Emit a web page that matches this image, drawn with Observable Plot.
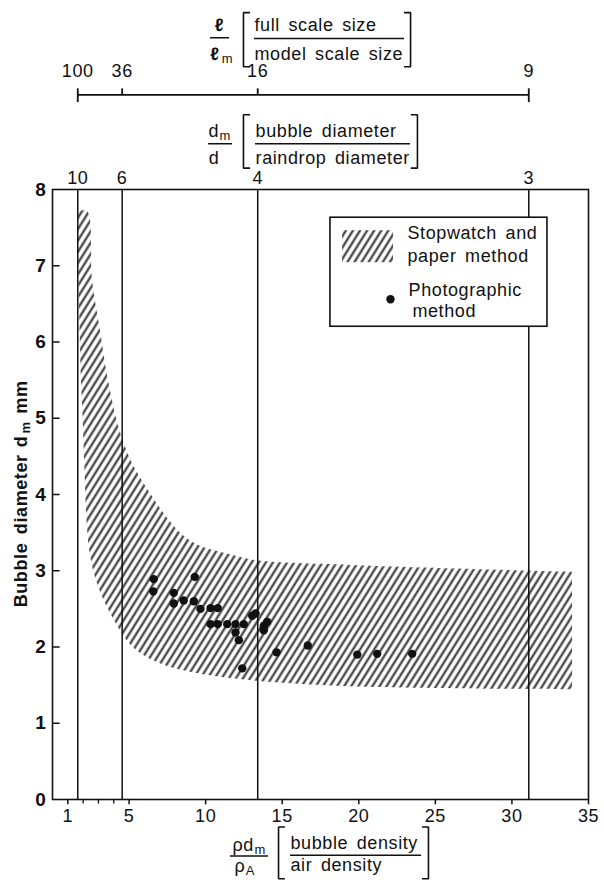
<!DOCTYPE html>
<html>
<head>
<meta charset="utf-8">
<script src="https://cdn.jsdelivr.net/npm/d3@7"></script>
<script src="https://cdn.jsdelivr.net/npm/@observablehq/plot@0.6"></script>
<style>
  body { margin: 0; background: #fff; }
  svg text { letter-spacing: 0.6px; word-spacing: 3px; }
</style>
</head>
<body>
<div id="chart"></div>
<script>
// ---------- data ----------
// Photographic method (x: bubble density / air density, y: bubble diameter mm)
const photoX = [6.61, 6.58, 9.29, 7.92, 7.92, 8.57, 9.23, 9.66, 10.32, 10.79, 10.32, 10.79, 11.41, 11.95, 12.49, 11.95, 12.17, 12.39, 13.04, 13.26, 13.80, 14.02, 13.80, 14.63, 16.67, 19.90, 21.20, 23.49];
const photoY = [2.89, 2.73, 2.92, 2.71, 2.57, 2.61, 2.60, 2.50, 2.51, 2.51, 2.30, 2.30, 2.30, 2.30, 2.30, 2.19, 2.09, 1.72, 2.41, 2.44, 2.28, 2.33, 2.22, 1.93, 2.02, 1.90, 1.91, 1.91];

// Stopwatch and paper method band: upper and lower boundaries
const bandUpperX = [1.70, 2.29, 2.61, 3.13, 3.53, 3.92, 4.31, 4.77, 5.29, 6.40, 7.51, 8.55, 9.66, 11.82, 13.39, 19.46, 33.96];
const bandUpperY = [7.71, 7.71, 6.81, 6.15, 5.63, 5.23, 4.90, 4.62, 4.38, 4.01, 3.69, 3.46, 3.32, 3.20, 3.13, 3.07, 2.98];
const bandLowerX = [1.70, 1.70, 1.73, 1.83, 1.89, 1.99, 2.12, 2.25, 2.48, 2.87, 3.79, 5.29, 7.05, 9.01, 12.93, 19.46, 33.96];
const bandLowerY = [7.71, 7.27, 6.81, 5.93, 5.50, 5.06, 4.31, 3.66, 3.20, 2.87, 2.44, 1.99, 1.78, 1.67, 1.56, 1.48, 1.44];

// axes
const xTickValues = [1, 5, 10, 15, 20, 25, 30, 35];
const xMinorTickValues = [2, 3, 4];
const yTickValues = [0, 1, 2, 3, 4, 5, 6, 7, 8];

// secondary scales: d_m/d and l/l_m at the same positions
const diameterRatioLabels = ["10", "6", "4", "3"];
const diameterRatioX = [1.65, 4.55, 13.4, 31.1];
const scaleRatioLabels = ["100", "36", "16", "9"];

// legend entries
const legendBandLabel = ["Stopwatch and", "paper method"];
const legendDotLabel = ["Photographic", "method"];

// ---------- chart ----------
const ink = "#111";
const band = bandUpperX.map((x, i) => ({ux: x, uy: bandUpperY[i], lx: bandLowerX[i], ly: bandLowerY[i]}));
const photos = photoX.map((x, i) => ({x, y: photoY[i]}));

const T = (x, y, t, o = {}) =>
  Plot.text([{x, y, t}], {x: "x", y: "y", text: "t", fill: ink, fontSize: 18, textAnchor: "start", ...o});
const L = (pts, o = {}) =>
  Plot.line(pts, {x: d => d[0], y: d => d[1], stroke: ink, strokeWidth: 1.6, strokeLinejoin: "miter", strokeLinecap: "butt", ...o});
const bracketL = (x, xs, y1, y2) => L([[xs, y1], [x, y1], [x, y2], [xs, y2]]);
const bracketR = (x, xs, y1, y2) => L([[xs, y1], [x, y1], [x, y2], [xs, y2]]);
const bar = (x1, x2, y) => Plot.ruleY([y], {x1, x2, stroke: ink, strokeWidth: 1.5});

const plot = Plot.plot({
  width: 604,
  height: 880,
  marginTop: 189,
  marginBottom: 81,
  marginLeft: 52,
  marginRight: 16,
  x: {domain: [0, 35], axis: null},
  y: {domain: [0, 8], axis: null},
  style: {fontFamily: "'Liberation Sans', Arial, Helvetica, sans-serif", background: "white", overflow: "visible"},
  marks: [
    // hatched band
    Plot.area(band, {x1: "lx", y1: "ly", x2: "ux", y2: "uy", fill: "url(#hatch)", curve: "catmull-rom"}),
    // vertical reference lines (d_m/d)
    Plot.ruleX(diameterRatioX, {stroke: ink, strokeWidth: 1.5}),
    Plot.frame({stroke: ink, strokeWidth: 1.6}),
    // photographic points
    Plot.dot(photos, {x: "x", y: "y", r: 4.2, fill: ink, stroke: "none"}),

    // y axis ticks (inward) and labels
    Plot.ruleY(yTickValues.slice(1, 8), {x1: 0, x2: 0.5, stroke: ink, strokeWidth: 1.5}),
    Plot.text(yTickValues, {x: 0, y: d => d, text: d => String(d), dx: -6, textAnchor: "end", fontSize: 19, fontWeight: "bold", fill: ink}),
    // x axis ticks (outward) and labels
    Plot.ruleX(xTickValues, {y1: 0, y2: -0.07, stroke: ink, strokeWidth: 1.5}),
    Plot.ruleX(xMinorTickValues, {y1: 0, y2: -0.06, stroke: ink, strokeWidth: 1.3}),
    Plot.text(xTickValues, {x: d => d, y: 0, text: d => String(d), dy: 17, fontSize: 18, fill: ink}),

    // d_m/d labels above the frame
    Plot.text(diameterRatioLabels, {x: (d, i) => diameterRatioX[i], y: 8, text: d => d, dy: -11, fontSize: 18, fill: ink}),

    // l/l_m ruler
    Plot.ruleY([9.24], {x1: diameterRatioX[0], x2: diameterRatioX[3], stroke: ink, strokeWidth: 1.8}),
    Plot.ruleX([diameterRatioX[0], diameterRatioX[3]], {y1: 9.32, y2: 9.14, stroke: ink, strokeWidth: 1.8}),
    Plot.ruleX(diameterRatioX.slice(1, 3), {y1: 9.32, y2: 9.24, stroke: ink, strokeWidth: 1.8}),
    Plot.text(scaleRatioLabels, {x: (d, i) => diameterRatioX[i], y: 9.55, text: d => d, fontSize: 18, fill: ink}),

    // title: l / l_m [full scale size / model scale size]
    T(10.90, 10.15, "ℓ", {textAnchor: "middle", fontWeight: "bold"}),
    bar(10.32, 11.56, 9.99),
    T(10.60, 9.78, "ℓ", {textAnchor: "middle", fontWeight: "bold"}),
    T(11.05, 9.72, "m", {fontSize: 13}),
    bracketL(12.47, 12.90, 10.32, 9.61),
    T(13.19, 10.15, "full scale size"),
    bar(13.19, 22.99, 9.98),
    T(13.19, 9.78, "model scale size"),
    bracketR(23.38, 22.95, 10.32, 9.61),

    // title: d_m / d [bubble diameter / raindrop diameter]
    T(10.19, 8.76, "d"),
    T(10.90, 8.70, "m", {fontSize: 13}),
    bar(10.19, 11.75, 8.60),
    T(10.55, 8.41, "d", {textAnchor: "middle"}),
    bracketL(12.47, 12.90, 8.98, 8.28),
    T(13.26, 8.76, "bubble diameter"),
    bar(13.26, 23.38, 8.60),
    T(13.26, 8.41, "raindrop diameter"),
    bracketR(23.83, 23.40, 8.98, 8.28),

    // title: rho d_m / rho_A [bubble density / air density]
    T(11.75, -0.60, "ρd"),
    T(13.19, -0.66, "m", {fontSize: 13}),
    bar(11.62, 14.10, -0.74),
    T(11.88, -0.87, "ρ"),
    T(12.62, -0.93, "A", {fontSize: 13}),
    bracketL(14.76, 15.18, -0.36, -1.04),
    T(15.54, -0.58, "bubble density"),
    bar(15.54, 24.10, -0.73),
    T(15.54, -0.86, "air density"),
    bracketR(24.55, 24.13, -0.36, -1.04),

    // y axis title: Bubble diameter d_m mm (rotated)
    T(-2.05, 2.52, "Bubble diameter", {rotate: -90, fontWeight: "bold"}),
    T(-2.05, 4.62, "d", {rotate: -90, fontWeight: "bold"}),
    T(-1.75, 4.80, "m", {rotate: -90, fontWeight: "bold", fontSize: 13}),
    T(-2.05, 5.06, "mm", {rotate: -90, fontWeight: "bold"}),

    // legend
    Plot.rect([0], {x1: 18.15, x2: 32.32, y1: 6.20, y2: 7.63, fill: "white", stroke: ink, strokeWidth: 1.6}),
    Plot.rect([0], {x1: 18.94, x2: 22.27, y1: 7.04, y2: 7.46, fill: "url(#hatch)"}),
    T(23.18, 7.42, legendBandLabel[0]),
    T(23.18, 7.13, legendBandLabel[1]),
    Plot.dot([0], {x: 22.07, y: 6.56, r: 4.2, fill: ink, stroke: "none"}),
    T(23.25, 6.68, legendDotLabel[0]),
    T(23.50, 6.40, legendDotLabel[1])
  ]
});

// hatch pattern for the band
const svg = d3.select(plot);
const defs = svg.insert("defs", ":first-child");
const pat = defs.append("pattern")
  .attr("id", "hatch")
  .attr("patternUnits", "userSpaceOnUse")
  .attr("width", 6.0)
  .attr("height", 12)
  .attr("patternTransform", "rotate(32)");
pat.append("rect").attr("width", 6.0).attr("height", 12).attr("fill", "white");
pat.append("line").attr("x1", 1.5).attr("x2", 1.5).attr("y1", -1).attr("y2", 13)
  .attr("stroke", "#333").attr("stroke-width", 2.1);

document.getElementById("chart").appendChild(plot);
</script>
</body>
</html>
